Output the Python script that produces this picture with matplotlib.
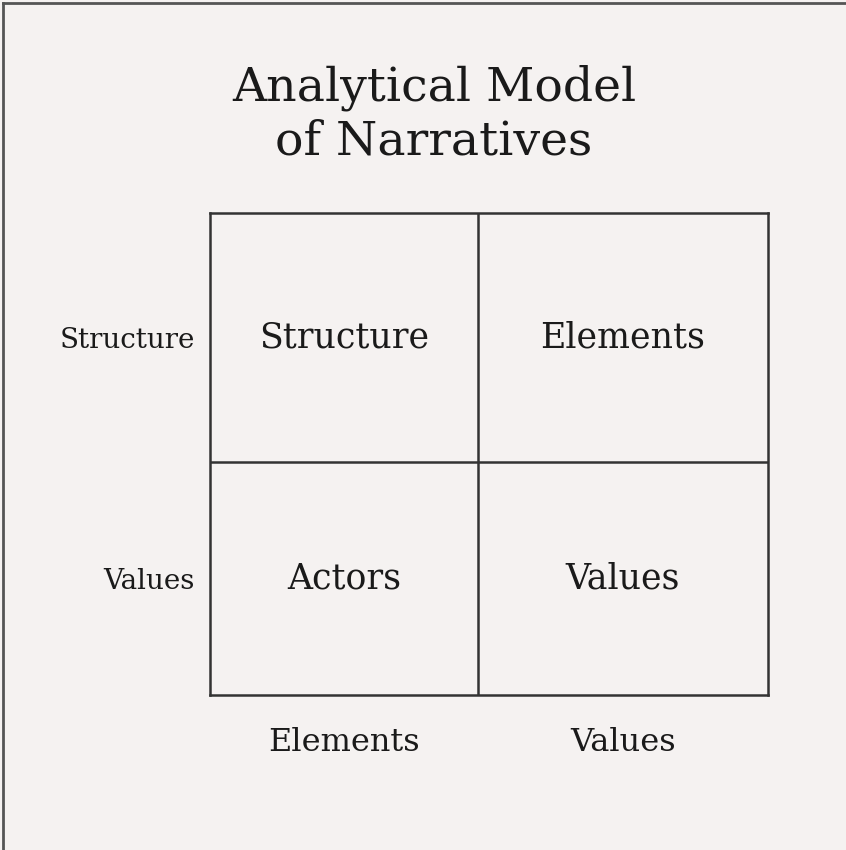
import matplotlib
matplotlib.use("Agg")
import matplotlib.pyplot as plt
from matplotlib.lines import Line2D

title = "Analytical Model\nof Narratives"
row_labels = ["Structure", "Values"]
col_labels = ["Elements", "Values"]
cells = [["Structure", "Elements"],
         ["Actors", "Values"]]

# layout (pixels of the 846x850 picture)
col_w = [268, 290]
row_h = [249, 233]

bg = "#f5f2f1"
ink = "#1a1a1a"
plt.rcParams["font.family"] = "DejaVu Serif"

fig = plt.figure(figsize=(8.46, 8.5), dpi=100, facecolor=bg)

# thin frame on the left and top of the picture
fig.add_artist(Line2D([0.004, 0.004], [0, 0.997], color="#555555", lw=2, transform=fig.transFigure))
fig.add_artist(Line2D([0.004, 1], [0.997, 0.997], color="#555555", lw=2, transform=fig.transFigure))

fig.text(0.513, 0.865, title, ha="center", va="center", fontsize=34,
         color=ink, linespacing=1.22)

W, H = sum(col_w), sum(row_h)
ax = fig.add_axes([210 / 846, 155 / 850, W / 846, H / 850])
ax.set_facecolor(bg)
ax.set_xlim(0, W)
ax.set_ylim(H, 0)
for s in ax.spines.values():
    s.set_color("#333333")
    s.set_linewidth(1.8)
ax.axvline(col_w[0], color="#333333", lw=1.8)
ax.axhline(row_h[0], color="#333333", lw=1.8)

xc = [col_w[0] / 2, col_w[0] + col_w[1] / 2]
yc = [row_h[0] / 2, row_h[0] + row_h[1] / 2]

for r, row in enumerate(cells):
    for c, txt in enumerate(row):
        ax.text(xc[c], yc[r], txt, ha="center", va="center",
                fontsize=25, color=ink)

ax.set_xticks(xc)
ax.set_xticklabels(col_labels, fontsize=23, color=ink)
ax.set_yticks(yc)
ax.set_yticklabels(row_labels, fontsize=20, color=ink)
ax.tick_params(axis="x", length=0, pad=23)
ax.tick_params(axis="y", length=0, pad=11)

fig.savefig("out.png", dpi=100, facecolor=bg)
